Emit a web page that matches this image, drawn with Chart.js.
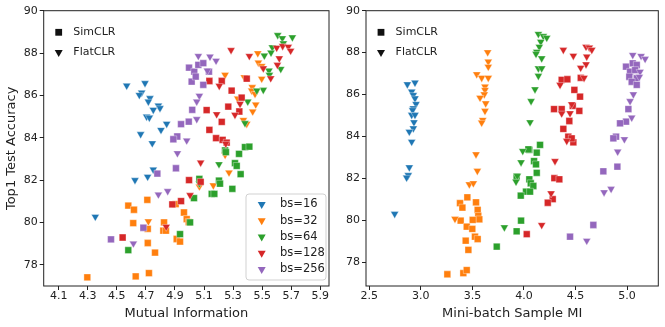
<!DOCTYPE html>
<html>
<head>
<meta charset="utf-8">
<script src="https://cdn.jsdelivr.net/npm/chart.js@4.4.1/dist/chart.umd.min.js"></script>
<style>
  html, body { margin: 0; padding: 0; background: #fff; }
  #wrap { position: relative; width: 665px; height: 327px; }
  canvas { position: absolute; top: 0; }
  #miChart { left: 0; }
  #sampleChart { left: 335px; }
</style>
</head>
<body>
<div id="wrap">
  <canvas id="miChart" width="335" height="327"></canvas>
  <canvas id="sampleChart" width="330" height="327"></canvas>
</div>
<script>
// Batch sizes and their colours
const batchSizes = [16, 32, 64, 128, 256];
const bsColors = ['#1f77b4', '#ff7f0e', '#2ca02c', '#d62728', '#9467bd'];

// Tick labels
const accTicks = [78, 80, 82, 84, 86, 88, 90];
const miTicks = [4.1, 4.3, 4.5, 4.7, 4.9, 5.1, 5.3, 5.5, 5.7, 5.9];
const sampleMiTicks = [2.5, 3.0, 3.5, 4.0, 4.5, 5.0];

// Left panel: [mutual information, top1 accuracy]
const miSim16 = [];
const miFlat16 = [[4.568,86.46],[4.694,86.58],[4.671,86.13],[4.655,86.02],[4.728,85.87],[4.717,85.71],[4.786,85.52],[4.797,85.4],[4.751,85.32],[4.705,85.0],[4.724,84.95],[4.843,84.66],[4.804,84.37],[4.664,84.17],[4.744,83.74],[4.751,82.5],[4.625,82.0],[4.712,82.16],[4.352,80.27]];
const miSim32 = [[4.579,80.8],[4.618,80.6],[4.71,81.07],[4.613,79.97],[4.713,79.7],[4.825,80.0],[4.82,79.61],[4.838,79.61],[4.962,80.47],[4.981,80.16],[4.912,79.22],[4.935,79.1],[4.713,79.03],[4.763,78.58],[4.297,77.41],[4.63,77.45],[4.721,77.61],[4.905,80.87],[4.995,80.02]];
const miFlat32 = [[5.47,87.99],[5.474,87.55],[5.497,87.39],[5.245,86.97],[5.377,86.86],[5.497,86.79],[5.432,86.39],[5.428,86.23],[5.451,86.07],[5.332,85.85],[5.456,85.57],[5.435,85.24],[5.371,84.84],[5.394,84.66],[5.245,83.19],[5.272,82.36],[5.164,81.75],[5.068,81.7],[4.717,80.05]];
const miSim64 = [[5.245,83.4],[5.251,83.32],[5.341,83.24],[5.382,83.56],[5.412,83.58],[5.313,82.8],[5.325,82.67],[5.352,82.28],[5.203,81.98],[5.21,81.83],[5.295,81.59],[5.153,81.35],[5.171,81.35],[5.031,81.15],[5.004,80.0],[5.068,82.06],[4.579,78.69],[4.935,79.45]];
const miFlat64 = [[5.607,88.85],[5.639,88.7],[5.708,88.74],[5.646,88.46],[5.57,88.27],[5.561,88.02],[5.515,87.88],[5.547,87.17],[5.628,87.25],[5.55,86.97],[5.508,86.26],[5.463,86.23],[5.401,85.71],[5.382,84.69],[5.203,82.75],[5.068,81.84]];
const miSim128 = [[5.137,86.68],[5.222,86.68],[5.394,86.79],[5.29,86.23],[5.359,85.9],[5.267,85.47],[5.118,85.31],[5.343,85.24],[5.222,84.75],[5.137,84.37],[5.183,83.98],[5.228,83.9],[5.256,83.77],[4.54,79.29],[4.882,80.85],[4.942,81.01],[4.997,82.0],[5.077,81.92]];
const miFlat128 = [[5.286,88.14],[5.412,87.86],[5.6,88.25],[5.641,88.33],[5.68,88.3],[5.696,88.11],[5.618,87.75],[5.605,87.44],[5.508,87.28],[5.559,86.81],[5.205,86.45],[5.187,85.11],[5.313,85.08],[5.348,85.6],[5.077,82.83],[5.004,81.29],[4.84,79.8],[5.25,83.72]];
const miSim256 = [[4.997,87.31],[5.033,87.12],[5.061,87.44],[5.095,87.52],[5.134,87.12],[5.015,86.65],[5.043,86.89],[5.095,86.5],[5.019,85.32],[4.995,84.76],[4.942,84.64],[4.916,84.06],[4.889,83.93],[4.907,82.56],[4.779,82.31],[4.683,79.75],[4.46,79.2]];
const miFlat256 = [[5.061,87.86],[5.141,87.83],[5.183,87.64],[5.123,87.17],[5.068,85.98],[5.05,85.71],[5.05,84.88],[4.981,83.87],[4.917,83.27],[4.786,81.32],[4.85,81.48],[4.614,79.01]];

// Right panel: [mini-batch sample MI, top1 accuracy]
const smiSim16 = [];
const smiFlat16 = [[2.869,86.49],[2.943,86.57],[2.911,86.14],[2.927,85.98],[2.943,85.82],[2.953,85.55],[2.927,85.35],[2.92,85.26],[2.911,85.03],[2.943,85.03],[2.933,84.68],[2.927,84.39],[2.888,84.23],[2.911,83.75],[2.888,82.53],[2.878,82.16],[2.862,82.04],[2.746,80.31]];
const smiSim32 = [[3.451,81.1],[3.38,80.82],[3.403,80.61],[3.535,80.86],[3.551,80.5],[3.557,80.21],[3.567,80.05],[3.503,80.02],[3.386,79.99],[3.445,79.7],[3.499,79.59],[3.525,79.22],[3.551,79.11],[3.435,79.03],[3.461,78.59],[3.257,77.43],[3.412,77.48],[3.445,77.63]];
const smiFlat32 = [[3.648,88.02],[3.654,87.57],[3.654,87.33],[3.542,86.97],[3.59,86.8],[3.654,86.8],[3.622,86.38],[3.622,86.22],[3.615,86.01],[3.574,85.85],[3.629,85.58],[3.622,85.22],[3.6,84.79],[3.59,84.66],[3.535,83.15],[3.548,82.36],[3.47,81.72],[3.509,81.77],[3.331,80.07]];
const smiSim64 = [[4.156,83.6],[4.052,83.36],[4.124,83.23],[4.098,82.83],[4.117,82.67],[4.043,83.39],[4.124,82.27],[3.929,82.08],[4.052,81.96],[4.066,81.77],[4.091,81.64],[4.02,81.37],[4.059,81.37],[3.969,81.18],[3.972,79.99],[3.929,79.48],[3.736,78.75]];
const smiFlat64 = [[4.14,88.89],[4.188,88.79],[4.221,88.71],[4.163,88.52],[4.149,88.28],[4.124,88.04],[4.117,87.94],[4.172,87.73],[4.14,87.25],[4.172,87.25],[4.14,86.89],[4.107,86.25],[4.069,85.69],[4.059,84.68],[3.988,83.31],[3.972,82.77],[3.936,82.12],[3.923,81.85],[3.81,79.67]];
const smiSim128 = [[4.366,86.7],[4.421,86.73],[4.551,86.8],[4.489,86.22],[4.544,85.9],[4.292,85.31],[4.366,85.31],[4.473,85.46],[4.537,85.22],[4.44,84.74],[4.382,84.36],[4.43,83.99],[4.479,83.72],[4.463,83.91],[4.295,82.01],[4.343,81.96],[4.279,81.01],[4.231,80.84],[4.027,79.34]];
const smiFlat128 = [[4.382,88.13],[4.479,87.85],[4.602,88.28],[4.634,88.24],[4.658,88.13],[4.609,87.81],[4.602,87.44],[4.55,87.28],[4.583,86.8],[4.35,86.46],[4.463,85.54],[4.447,85.11],[4.366,85.1],[4.415,83.79],[4.301,82.83],[4.263,81.29],[4.172,79.78]];
const smiSim256 = [[4.99,87.33],[5.055,87.49],[5.094,87.41],[5.029,87.09],[5.078,87.17],[5.022,86.85],[5.094,86.78],[5.045,86.61],[5.094,86.46],[5.013,85.31],[4.99,84.71],[4.932,84.63],[4.893,83.99],[4.867,83.91],[4.906,82.56],[4.77,82.34],[4.447,79.22],[4.673,79.78]];
const smiFlat256 = [[5.055,87.89],[5.136,87.84],[5.175,87.7],[5.126,87.09],[5.119,86.85],[5.061,86.01],[5.029,85.69],[5.045,84.9],[4.974,83.87],[4.909,83.28],[4.777,81.34],[4.845,81.5],[4.609,79.03]];

Chart.defaults.font.family = "'DejaVu Sans', sans-serif";
Chart.defaults.color = '#222';

const SQ_R = 4.8;   // rect radius (side = r * sqrt2)
const TRI_R = 4.6;  // triangle circumradius

function drawSquare(ctx, x, y, color) {
    const s = SQ_R * Math.SQRT1_2;
    ctx.fillStyle = color;
    ctx.fillRect(x - s, y - s, 2 * s, 2 * s);
}

function drawTriangleDown(ctx, x, y, color) {
    ctx.fillStyle = color;
    ctx.beginPath();
    ctx.moveTo(x, y + TRI_R);
    ctx.lineTo(x - TRI_R * 0.866, y - TRI_R * 0.5);
    ctx.lineTo(x + TRI_R * 0.866, y - TRI_R * 0.5);
    ctx.closePath();
    ctx.fill();
}

function makeDatasets(simSets, flatSets) {
    const sets = [];
    batchSizes.forEach((bs, i) => {
        sets.push({
            label: 'SimCLR bs=' + bs,
            data: simSets[i],
            pointStyle: 'rect',
            pointRadius: SQ_R,
            backgroundColor: bsColors[i],
            borderColor: 'rgba(255,255,255,0.6)',
            borderWidth: 0.6,
            order: 100 - sets.length
        });
        sets.push({
            label: 'FlatCLR bs=' + bs,
            data: flatSets[i],
            pointStyle: 'triangle',
            rotation: 180,
            pointRadius: TRI_R,
            backgroundColor: bsColors[i],
            borderColor: 'rgba(255,255,255,0.6)',
            borderWidth: 0.6,
            order: 100 - sets.length
        });
    });
    return sets;
}

// Frame + in-plot legends
const panelDecor = {
    id: 'panelDecor',
    afterDraw(chart, args, opts) {
        const { ctx, chartArea: a } = chart;
        ctx.save();
        ctx.strokeStyle = '#222';
        ctx.lineWidth = 1;
        ctx.strokeRect(a.left, a.top, a.right - a.left, a.bottom - a.top);

        // SimCLR / FlatCLR marker legend
        ctx.font = "11px 'DejaVu Sans'";
        ctx.textBaseline = 'middle';
        ctx.fillStyle = '#222';
        drawSquare(ctx, a.left + 15, a.top + 21.6, '#111');
        drawTriangleDown(ctx, a.left + 15, a.top + 41.6, '#111');
        ctx.fillStyle = '#222';
        ctx.fillText('SimCLR', a.left + 29.6, a.top + 21.6);
        ctx.fillText('FlatCLR', a.left + 29.6, a.top + 41.6);

        if (opts.showBatchLegend) {
            const bx = a.right - 83, by = a.bottom - 92, bw = 80, bh = 86, r = 3;
            ctx.beginPath();
            ctx.moveTo(bx + r, by);
            ctx.arcTo(bx + bw, by, bx + bw, by + bh, r);
            ctx.arcTo(bx + bw, by + bh, bx, by + bh, r);
            ctx.arcTo(bx, by + bh, bx, by, r);
            ctx.arcTo(bx, by, bx + bw, by, r);
            ctx.closePath();
            ctx.fillStyle = 'rgba(255,255,255,0.8)';
            ctx.fill();
            ctx.strokeStyle = 'rgba(204,204,204,0.9)';
            ctx.stroke();
            ctx.font = "11.5px 'DejaVu Sans'";
            batchSizes.forEach((bs, i) => {
                const y = by + 10.3 + 16.25 * i;
                drawTriangleDown(ctx, bx + 15.7, y, bsColors[i]);
                ctx.fillStyle = '#222';
                ctx.fillText('bs=' + bs, bx + 34, y);
            });
        }
        ctx.restore();
    }
};

function xAxis(min, max, tickValues, title, digits) {
    return {
        type: 'linear',
        min: min,
        max: max,
        afterBuildTicks: s => { s.ticks = tickValues.map(v => ({ value: v })); },
        afterFit: s => { s.height = 41; },
        border: { display: false },
        grid: { drawOnChartArea: false, drawTicks: true, tickLength: 4, color: '#222' },
        ticks: { padding: 0, font: { size: 11 }, callback: v => v.toFixed(digits) },
        title: { display: true, text: title, font: { size: 13 }, padding: { top: 0, bottom: 6 } }
    };
}

function yAxis(min, width, title) {
    return {
        type: 'linear',
        min: min,
        max: 90,
        afterBuildTicks: s => { s.ticks = accTicks.map(v => ({ value: v })); },
        afterFit: s => { s.width = width; },
        border: { display: false },
        grid: { drawOnChartArea: false, drawTicks: true, tickLength: 4, color: '#222' },
        ticks: { padding: 2, font: { size: 11 } },
        title: { display: !!title, text: title || '', font: { size: 13 }, padding: { top: 4, bottom: 0 } }
    };
}

function baseOptions(xScale, yScale, showBatchLegend, padRight) {
    return {
        responsive: false,
        animation: false,
        layout: { padding: { top: 10.7, right: padRight, bottom: 0, left: 0 } },
        plugins: {
            legend: { display: false },
            tooltip: { enabled: false },
            panelDecor: { showBatchLegend: showBatchLegend }
        },
        scales: { x: xScale, y: yScale }
    };
}

new Chart(document.getElementById('miChart'), {
    type: 'scatter',
    data: {
        datasets: makeDatasets(
            [miSim16, miSim32, miSim64, miSim128, miSim256],
            [miFlat16, miFlat32, miFlat64, miFlat128, miFlat256]
        )
    },
    options: baseOptions(
        xAxis(3.997, 5.96, miTicks, 'Mutual Information', 1),
        yAxis(77, 43.7, 'Top1 Test Accuracy'),
        true, 6
    ),
    plugins: [panelDecor]
});

new Chart(document.getElementById('sampleChart'), {
    type: 'scatter',
    data: {
        datasets: makeDatasets(
            [smiSim16, smiSim32, smiSim64, smiSim128, smiSim256],
            [smiFlat16, smiFlat32, smiFlat64, smiFlat128, smiFlat256]
        )
    },
    options: baseOptions(
        xAxis(2.468, 5.303, sampleMiTicks, 'Mini-batch Sample MI', 1),
        yAxis(76.87, 31, null),
        false, 6.7
    ),
    plugins: [panelDecor]
});
</script>
</body>
</html>
